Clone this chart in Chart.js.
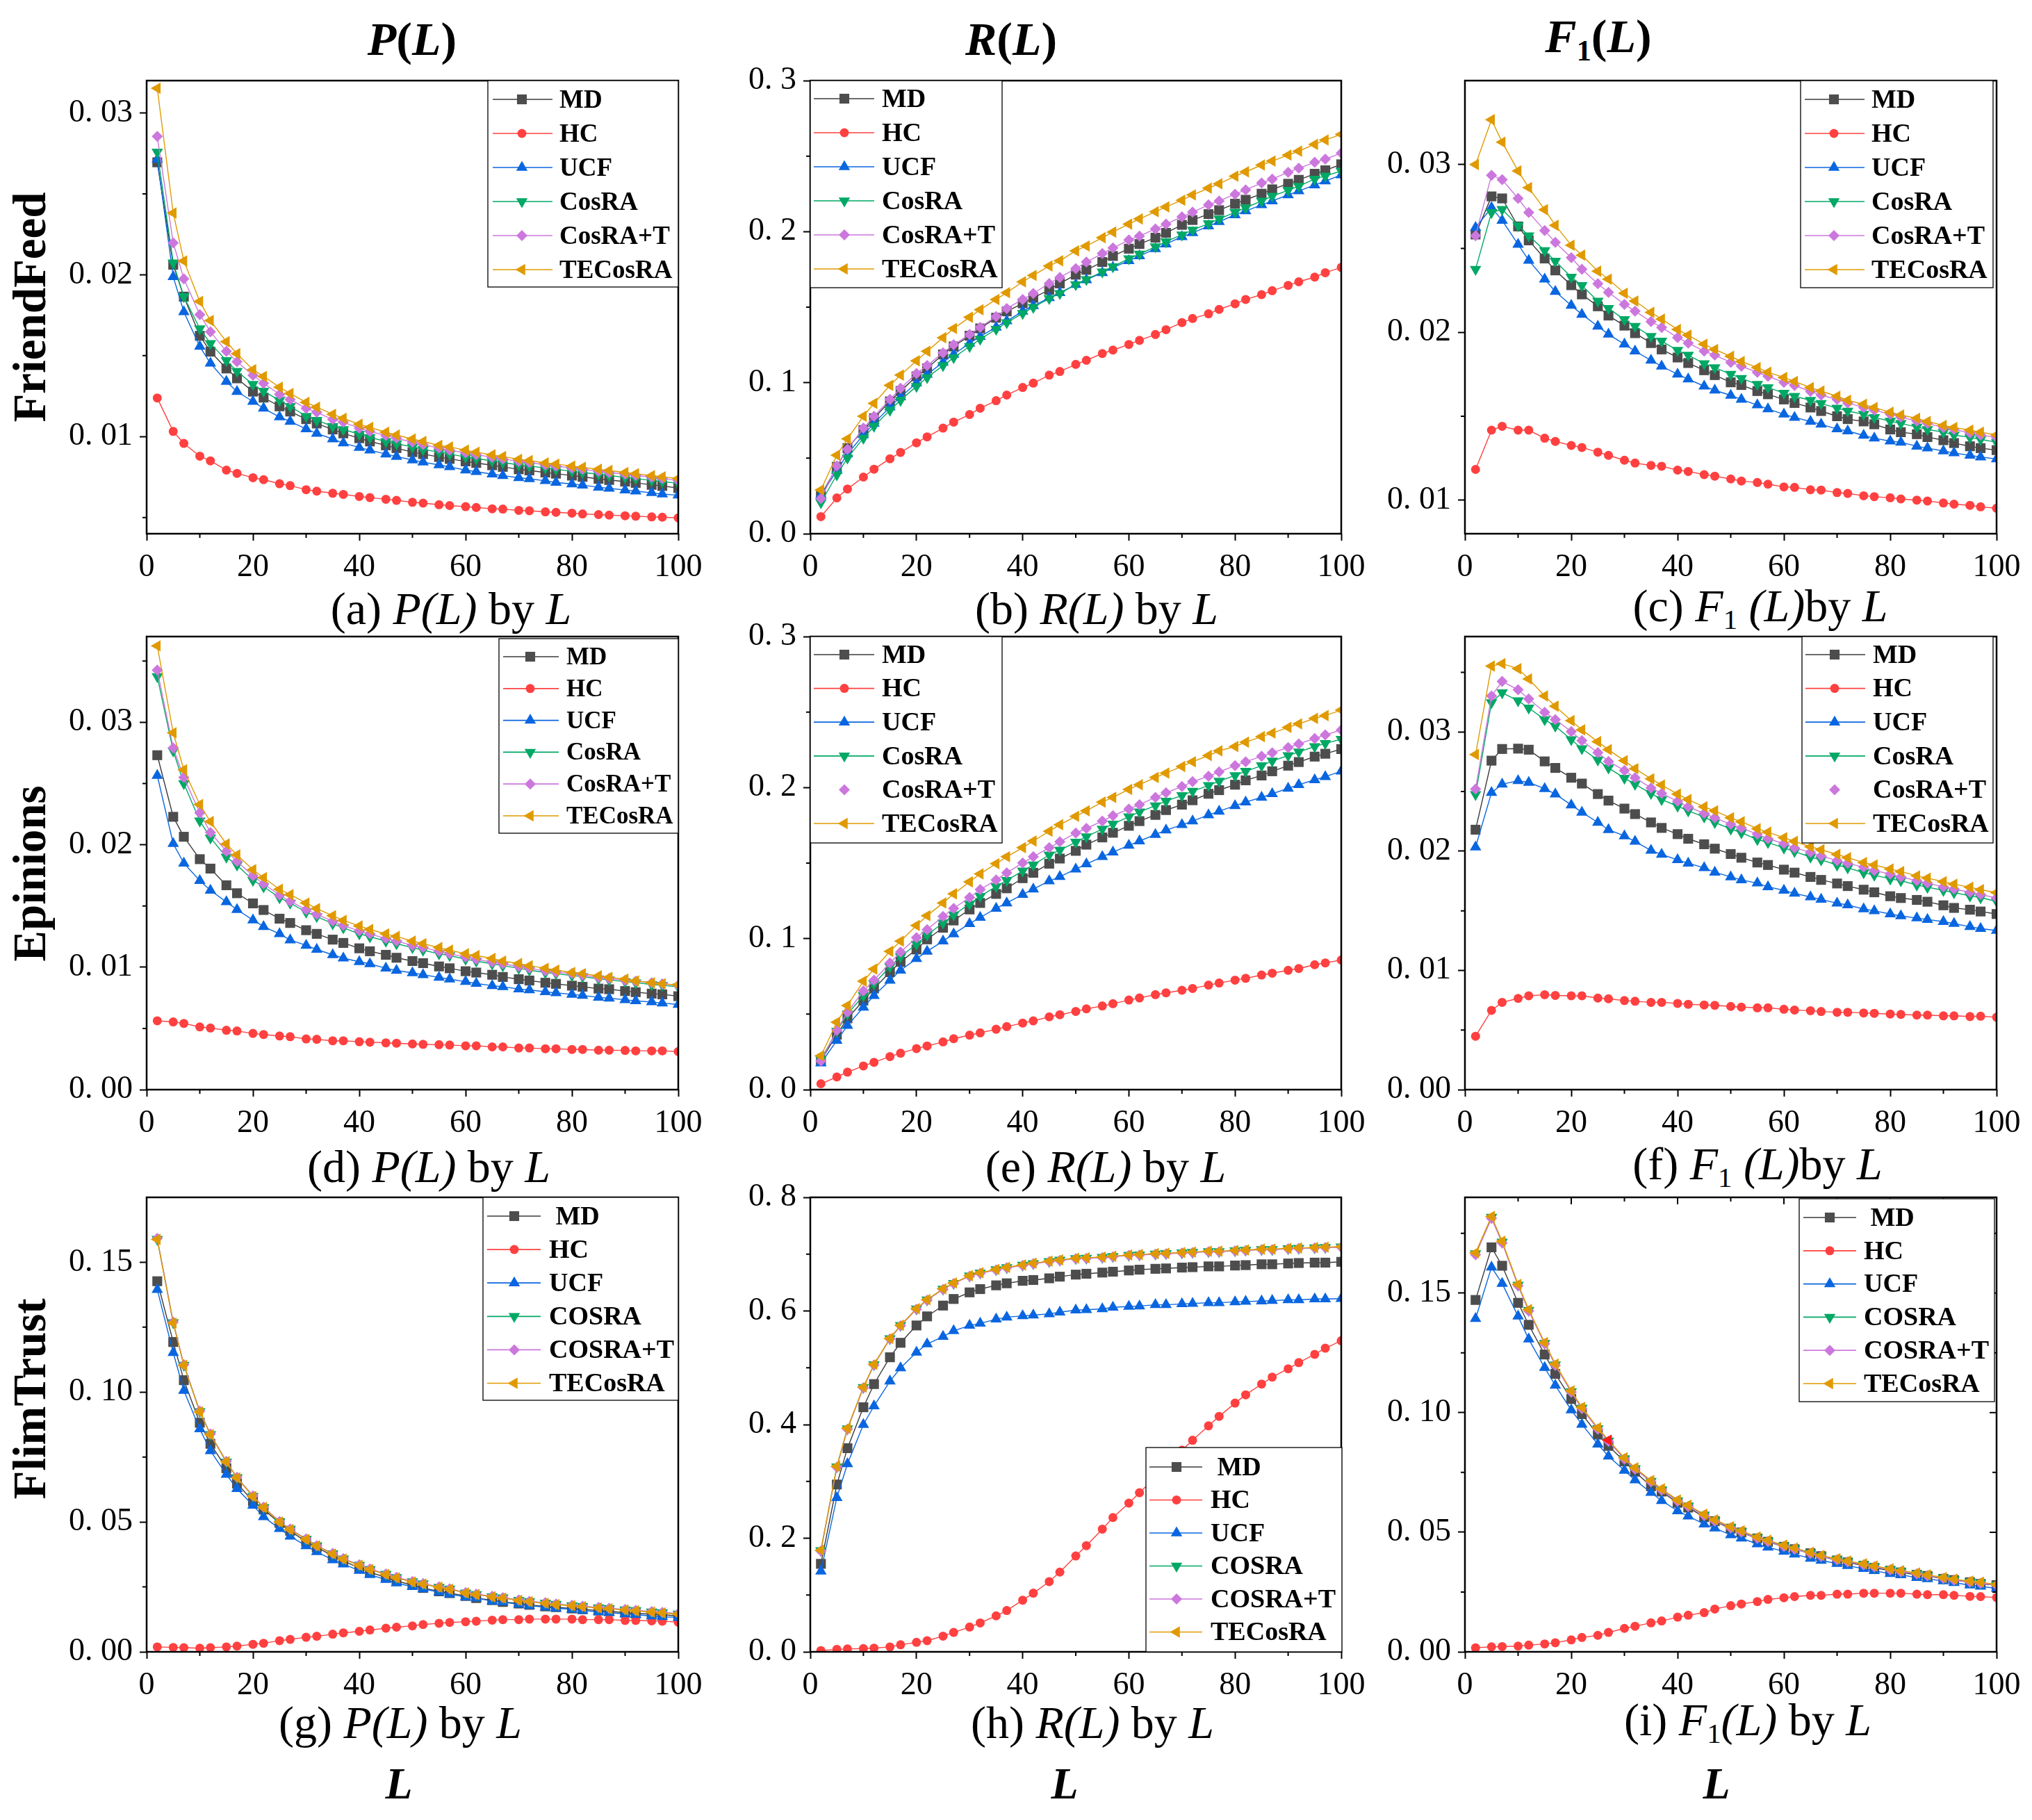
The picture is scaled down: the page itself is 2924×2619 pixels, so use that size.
<!DOCTYPE html>
<html>
<head>
<meta charset="utf-8">
<script src="https://cdn.jsdelivr.net/npm/chart.js@4.4.0/dist/chart.umd.min.js"></script>
<style>
  body { margin: 0; background: #fff; width: 2924px; height: 2619px; position: relative; overflow: hidden;
         font-family: "Liberation Serif", "Times New Roman", serif; color: #000; }
  canvas { position: absolute; }
  .t { position: absolute; transform: translate(-50%, -50%); white-space: nowrap; line-height: 1; }
  .col { font-size: 68px; font-weight: bold; }
  .row { font-size: 67px; font-weight: bold; transform: translate(-50%, -50%) rotate(-90deg); }
  .cap { font-size: 66px; }
  .lx { font-size: 64px; font-weight: bold; font-style: italic; }
  sub { font-size: 0.62em; vertical-align: -0.28em; font-style: normal; }
</style>
</head>
<body>

<div class="t col" style="left:593px;top:56px"><i>P</i>(<i>L</i>)</div>
<div class="t col" style="left:1455px;top:56px"><i>R</i>(<i>L</i>)</div>
<div class="t col" style="left:2300px;top:56px"><i>F</i><sub>1</sub>(<i>L</i>)</div>

<div class="t row" style="left:42px;top:442px">FriendFeed</div>
<div class="t row" style="left:42px;top:1257px">Epinions</div>
<div class="t row" style="left:42px;top:2013px">FlimTrust</div>

<div class="t cap" style="left:649px;top:876px">(a) <i>P(L)</i> by <i>L</i></div>
<div class="t cap" style="left:1578px;top:876px">(b) <i>R(L)</i> by <i>L</i></div>
<div class="t cap" style="left:2533px;top:876px">(c) <i>F</i><sub>1</sub> <i>(L)</i>by <i>L</i></div>
<div class="t cap" style="left:617px;top:1679px">(d) <i>P(L)</i> by <i>L</i></div>
<div class="t cap" style="left:1591px;top:1679px">(e) <i>R(L)</i> by <i>L</i></div>
<div class="t cap" style="left:2529px;top:1679px">(f) <i>F</i><sub>1</sub> <i>(L)</i>by <i>L</i></div>
<div class="t cap" style="left:576px;top:2479px">(g) <i>P(L)</i> by <i>L</i></div>
<div class="t cap" style="left:1572px;top:2479px">(h) <i>R(L)</i> by <i>L</i></div>
<div class="t cap" style="left:2515px;top:2479px">(i) <i>F</i><sub>1</sub><i>(L)</i> by <i>L</i></div>

<div class="t lx" style="left:574px;top:2567px">L</div>
<div class="t lx" style="left:1532px;top:2567px">L</div>
<div class="t lx" style="left:2470px;top:2567px">L</div>

<script>
// recommendation list length
const L = [2,5,7,10,12,15,17,20,22,25,27,30,32,35,37,40,42,45,47,50,52,55,57,60,62,65,67,70,72,75,77,80,82,85,87,90,92,95,97,100];

const namesTop = ['MD','HC','UCF','CosRA','CosRA+T','TECosRA'];
const namesBottom = ['\u00a0MD','HC','UCF','COSRA','COSRA+T','TECosRA'];

const xTicks = [0,10,20,30,40,50,60,70,80,90,100];
const xTickLabels = ['0','','20','','40','','60','','80','','100'];

// FriendFeed - P(L)
const a_MD = [0.02695,0.02062,0.01865,0.01623,0.01525,0.01421,0.0136,0.01278,0.01241,0.01187,0.01155,0.01108,0.01081,0.01044,0.0102,0.0099,0.0097,0.00946,0.00929,0.00904,0.00892,0.00874,0.00862,0.00847,0.00837,0.00823,0.00813,0.00798,0.00791,0.00778,0.00771,0.00759,0.00751,0.00739,0.00732,0.00722,0.00714,0.00702,0.00695,0.00682];
const a_HC = [0.01239,0.01032,0.00958,0.00879,0.0085,0.00793,0.00773,0.00746,0.00734,0.00709,0.00697,0.00672,0.00663,0.0065,0.00643,0.0063,0.00623,0.00613,0.00606,0.00594,0.00589,0.00579,0.00574,0.00567,0.00562,0.00554,0.00552,0.00544,0.00542,0.00535,0.00532,0.00527,0.00522,0.00518,0.00515,0.00511,0.00508,0.00504,0.00502,0.00498];
const a_UCF = [0.02714,0.01988,0.01771,0.01557,0.01453,0.0134,0.01278,0.01217,0.01175,0.01121,0.01094,0.01047,0.0102,0.00985,0.0096,0.00933,0.00916,0.00892,0.00877,0.00855,0.00842,0.00825,0.00813,0.00793,0.00783,0.00768,0.00759,0.00746,0.00739,0.00727,0.00717,0.00707,0.007,0.00687,0.0068,0.0067,0.00663,0.00653,0.00645,0.00638];
const a_CosRA = [0.02759,0.02074,0.01865,0.01667,0.01576,0.0147,0.01404,0.01323,0.01281,0.01224,0.01187,0.01126,0.01101,0.01064,0.01044,0.01015,0.00995,0.0097,0.00956,0.00936,0.00921,0.00904,0.00892,0.00874,0.00865,0.0085,0.0084,0.00825,0.00818,0.00806,0.00798,0.00786,0.00778,0.00768,0.00759,0.00749,0.00741,0.00729,0.00722,0.00712];
const a_CosRAT = [0.02855,0.02197,0.01975,0.01754,0.01648,0.01527,0.01463,0.01379,0.0133,0.01261,0.01229,0.01175,0.0115,0.01106,0.01089,0.01052,0.01032,0.01007,0.0099,0.00966,0.00951,0.00929,0.00916,0.00899,0.00889,0.00872,0.00862,0.00847,0.0084,0.00825,0.00818,0.00806,0.00798,0.00786,0.00778,0.00768,0.00761,0.00749,0.00741,0.00729];
const a_TECosRA = [0.03153,0.02382,0.02086,0.01835,0.01717,0.01586,0.01512,0.01414,0.01372,0.01305,0.01266,0.01212,0.01182,0.01138,0.01113,0.01076,0.01057,0.01027,0.0101,0.00985,0.0097,0.00946,0.00936,0.00916,0.00904,0.00887,0.00877,0.0086,0.00852,0.00837,0.0083,0.00818,0.0081,0.00798,0.00791,0.00778,0.00771,0.00759,0.00751,0.00741];

// FriendFeed - R(L)
const b_MD = [0.0251,0.0443,0.0567,0.0686,0.0765,0.0876,0.0945,0.1042,0.1095,0.1187,0.124,0.1311,0.1359,0.143,0.1472,0.1525,0.1562,0.1615,0.1657,0.1715,0.1747,0.1799,0.1839,0.1887,0.1918,0.196,0.1992,0.2045,0.2077,0.2116,0.2142,0.2185,0.2211,0.2251,0.228,0.2317,0.2343,0.2383,0.2406,0.2446];
const b_HC = [0.0113,0.0237,0.0296,0.0375,0.0427,0.0496,0.0538,0.0602,0.0641,0.0699,0.0739,0.0789,0.0831,0.0881,0.0918,0.0968,0.0997,0.105,0.1074,0.1121,0.1148,0.1193,0.1216,0.1253,0.128,0.1319,0.1351,0.1398,0.1425,0.1456,0.1485,0.1522,0.1551,0.1583,0.1609,0.1644,0.1668,0.1699,0.1728,0.1763];
const b_UCF = [0.0256,0.0417,0.0528,0.0654,0.0731,0.0839,0.0905,0.0997,0.1055,0.1135,0.1187,0.1261,0.1306,0.1367,0.1409,0.1472,0.1509,0.1562,0.1596,0.1649,0.1681,0.1728,0.1763,0.1807,0.1839,0.1887,0.1918,0.1966,0.1992,0.2037,0.2066,0.2111,0.2137,0.2177,0.2203,0.2243,0.2269,0.2309,0.2335,0.2375];
const b_CosRA = [0.0206,0.039,0.0501,0.0633,0.0712,0.0818,0.0884,0.0976,0.1034,0.1113,0.1166,0.124,0.1288,0.1354,0.1398,0.1459,0.1499,0.1557,0.1591,0.1649,0.1683,0.1734,0.1768,0.1821,0.1852,0.19,0.1934,0.1979,0.2011,0.2053,0.2084,0.2129,0.2158,0.2203,0.2235,0.2274,0.2301,0.2348,0.2369,0.2401];
const b_CosRAT = [0.0232,0.0449,0.0559,0.0699,0.0778,0.0889,0.0963,0.1061,0.1113,0.1198,0.1251,0.1319,0.1367,0.1438,0.1491,0.1551,0.1591,0.1657,0.1697,0.1755,0.1799,0.1855,0.1892,0.1945,0.1971,0.2018,0.205,0.2098,0.2129,0.2177,0.2203,0.2248,0.2277,0.2322,0.2348,0.2393,0.242,0.2459,0.248,0.252];
const b_TECosRA = [0.029,0.052,0.0628,0.0778,0.0863,0.0982,0.105,0.1145,0.1208,0.1298,0.1359,0.1433,0.1483,0.1551,0.1596,0.1668,0.171,0.1773,0.1807,0.1873,0.1905,0.196,0.1997,0.205,0.2084,0.2132,0.2164,0.2208,0.2243,0.2288,0.2317,0.2367,0.2396,0.2441,0.2467,0.2507,0.2533,0.2578,0.2607,0.2644];

// FriendFeed - F1(L)
const c_MD = [0.02583,0.0281,0.02798,0.02631,0.02548,0.0244,0.02369,0.02281,0.02226,0.02155,0.021,0.0204,0.01995,0.01936,0.01898,0.0185,0.01817,0.01774,0.01745,0.01702,0.01686,0.0165,0.01631,0.016,0.01579,0.01552,0.01531,0.015,0.01483,0.01469,0.01452,0.01421,0.01405,0.01393,0.01376,0.01357,0.0134,0.01321,0.0131,0.01298];
const c_HC = [0.01183,0.01417,0.0144,0.01417,0.01417,0.01369,0.0135,0.01326,0.01314,0.01286,0.01267,0.01238,0.01221,0.01207,0.01202,0.01179,0.01171,0.01152,0.01143,0.01126,0.01114,0.01105,0.01095,0.01079,0.01076,0.01062,0.0106,0.01045,0.0104,0.01026,0.01021,0.01014,0.01007,0.01,0.00995,0.00983,0.00976,0.00969,0.0096,0.00952];
const c_UCF = [0.02624,0.02743,0.02667,0.02524,0.02429,0.02317,0.02243,0.0216,0.02107,0.02036,0.01988,0.01929,0.01888,0.01833,0.01798,0.0175,0.01721,0.01679,0.01655,0.01624,0.016,0.01567,0.01543,0.01512,0.01493,0.01469,0.01452,0.01424,0.01412,0.01386,0.01369,0.01352,0.01345,0.01321,0.0131,0.01293,0.01281,0.01267,0.01257,0.01245];
const c_CosRA = [0.02376,0.02714,0.02733,0.02636,0.02576,0.02488,0.02424,0.02329,0.02279,0.02186,0.02143,0.02076,0.02036,0.01976,0.01948,0.01893,0.01864,0.01814,0.0179,0.0175,0.01726,0.0169,0.01671,0.01638,0.01619,0.01595,0.01576,0.01548,0.01531,0.01512,0.01493,0.01471,0.01457,0.01436,0.01421,0.01405,0.01388,0.01374,0.01362,0.01345];
const c_CosRAT = [0.02576,0.02936,0.0291,0.02798,0.02714,0.02607,0.02536,0.02445,0.02376,0.0229,0.02238,0.02167,0.02126,0.02064,0.02029,0.01969,0.01936,0.01888,0.01864,0.01821,0.01798,0.01762,0.01738,0.01702,0.01683,0.01648,0.01626,0.016,0.01579,0.01552,0.01536,0.01512,0.01495,0.01471,0.01457,0.01433,0.01421,0.014,0.01388,0.01374];
const c_TECosRA = [0.03,0.03267,0.03133,0.02962,0.02862,0.02731,0.02638,0.02519,0.0246,0.02364,0.02317,0.02233,0.02186,0.02119,0.02079,0.02017,0.01983,0.01929,0.01898,0.01857,0.01826,0.0179,0.01762,0.01731,0.01707,0.01671,0.0165,0.01619,0.01595,0.01571,0.01552,0.01524,0.01507,0.01488,0.01469,0.01445,0.01433,0.01417,0.01405,0.01388];

// Epinions - P(L)
const d_MD = [0.02731,0.02228,0.02065,0.01882,0.01805,0.01669,0.01604,0.01521,0.01467,0.01396,0.01361,0.01302,0.01272,0.01225,0.01198,0.01154,0.0113,0.01101,0.01077,0.0105,0.01033,0.01006,0.00991,0.00967,0.00956,0.00938,0.0092,0.00902,0.00891,0.00873,0.00864,0.00849,0.0084,0.00825,0.0082,0.00805,0.00796,0.00784,0.00778,0.00763];
const d_HC = [0.00562,0.00553,0.00541,0.00512,0.00503,0.00485,0.00479,0.00459,0.0045,0.00438,0.00432,0.00414,0.00411,0.00399,0.00399,0.00391,0.00388,0.00382,0.00379,0.00373,0.0037,0.00367,0.00364,0.00358,0.00358,0.00349,0.00349,0.0034,0.0034,0.00334,0.00334,0.00328,0.00328,0.00322,0.00322,0.0032,0.00317,0.00317,0.00317,0.00311];
const d_UCF = [0.02565,0.02009,0.01849,0.01707,0.01627,0.01533,0.0147,0.01385,0.01331,0.01272,0.01222,0.01178,0.01145,0.01101,0.01074,0.01044,0.01027,0.00991,0.00973,0.00953,0.00938,0.00917,0.00902,0.00882,0.00867,0.00849,0.0084,0.00822,0.00814,0.00799,0.0079,0.00778,0.00769,0.00754,0.00746,0.00734,0.00725,0.00716,0.00707,0.00695];
const d_CosRA = [0.03373,0.02766,0.025,0.02195,0.02056,0.01899,0.01834,0.0171,0.01657,0.01568,0.01524,0.0145,0.01414,0.01355,0.01322,0.01272,0.01249,0.01213,0.01192,0.0116,0.01139,0.01109,0.01095,0.01065,0.0105,0.01027,0.01012,0.00991,0.00976,0.00956,0.00947,0.00932,0.00923,0.00905,0.00896,0.00882,0.00873,0.00858,0.00852,0.0084];
const d_CosRAT = [0.03426,0.0279,0.0255,0.0226,0.021,0.01947,0.01864,0.01746,0.0168,0.01589,0.01538,0.0147,0.01432,0.01376,0.0134,0.01296,0.01272,0.01234,0.01213,0.01178,0.0116,0.0113,0.01109,0.01083,0.01065,0.01041,0.01027,0.01006,0.00991,0.0097,0.00959,0.00947,0.00935,0.00917,0.00908,0.00893,0.00885,0.00873,0.00864,0.00852];
const d_TECosRA = [0.03624,0.02914,0.02612,0.02328,0.02189,0.02006,0.01917,0.01796,0.01731,0.01636,0.01592,0.01524,0.01479,0.0142,0.01382,0.01337,0.01308,0.01272,0.01251,0.01213,0.01192,0.0116,0.01139,0.01109,0.01095,0.01071,0.0105,0.0103,0.01012,0.00991,0.00976,0.00956,0.00947,0.00929,0.00917,0.00902,0.00888,0.00873,0.00864,0.00855];

// Epinions - R(L)
const e_MD = [0.0193,0.0364,0.0472,0.059,0.067,0.0778,0.0846,0.0928,0.0995,0.1072,0.112,0.1193,0.1236,0.1296,0.1333,0.14,0.1436,0.1496,0.153,0.1581,0.1622,0.167,0.1701,0.1747,0.1778,0.1819,0.1851,0.1887,0.1916,0.1959,0.1983,0.2019,0.2048,0.208,0.2108,0.2145,0.2169,0.2205,0.2224,0.2255];
const e_HC = [0.0039,0.0084,0.0116,0.0157,0.0181,0.0219,0.0241,0.0272,0.0289,0.0316,0.0337,0.0361,0.0376,0.04,0.0417,0.0441,0.0455,0.0482,0.0496,0.0518,0.0535,0.0554,0.0569,0.0593,0.0607,0.0629,0.0641,0.0658,0.067,0.0692,0.0706,0.0725,0.0737,0.0759,0.0771,0.079,0.0802,0.0827,0.0839,0.0858];
const e_UCF = [0.0176,0.0325,0.0424,0.0545,0.0622,0.0723,0.079,0.0867,0.0916,0.0983,0.1031,0.1099,0.114,0.12,0.1236,0.1292,0.1328,0.1381,0.141,0.146,0.1494,0.1542,0.1573,0.1617,0.1646,0.1689,0.1718,0.1754,0.1778,0.1819,0.1843,0.188,0.1904,0.1935,0.1959,0.1995,0.2019,0.2051,0.2072,0.2108];
const e_CosRA = [0.02,0.0388,0.0501,0.0622,0.0701,0.0814,0.088,0.0964,0.1024,0.1104,0.1157,0.1229,0.128,0.1345,0.1386,0.1448,0.1489,0.1554,0.1586,0.1639,0.1675,0.1725,0.1759,0.1807,0.1839,0.188,0.1911,0.1947,0.1976,0.2014,0.2043,0.208,0.2108,0.2145,0.2176,0.2212,0.2236,0.2272,0.2292,0.232];
const e_CosRAT = [0.019,0.0393,0.0513,0.0653,0.0725,0.0839,0.0911,0.1007,0.106,0.1147,0.12,0.1272,0.1325,0.1388,0.1436,0.1501,0.1542,0.1602,0.1641,0.1699,0.173,0.1778,0.1814,0.1858,0.1887,0.1935,0.1966,0.2007,0.2039,0.2075,0.2104,0.2145,0.2171,0.2207,0.2231,0.2265,0.2289,0.2325,0.2349,0.2381];
const e_TECosRA = [0.0224,0.0446,0.0557,0.0718,0.0798,0.0916,0.0983,0.1087,0.1152,0.1236,0.1296,0.1376,0.1429,0.1496,0.1542,0.1602,0.1646,0.1711,0.1754,0.181,0.1846,0.1904,0.1935,0.1988,0.2019,0.2067,0.2096,0.214,0.2171,0.2212,0.2243,0.2272,0.2301,0.2337,0.2361,0.2398,0.2422,0.2458,0.2477,0.2513];

// Epinions - F1(L)
const f_MD = [0.0218,0.02759,0.02857,0.0286,0.02851,0.02753,0.02698,0.02616,0.02567,0.02479,0.02424,0.02357,0.02311,0.02241,0.02195,0.02143,0.02104,0.02058,0.02021,0.01976,0.01945,0.01905,0.01884,0.01845,0.0182,0.01784,0.01759,0.01729,0.01707,0.01677,0.01655,0.01622,0.01607,0.01591,0.01576,0.01546,0.01524,0.01509,0.01494,0.01473];
const f_HC = [0.00448,0.00665,0.00732,0.00765,0.00787,0.00796,0.0079,0.00787,0.00787,0.00768,0.00762,0.00747,0.00741,0.00732,0.00732,0.00723,0.00716,0.0071,0.00707,0.00698,0.00692,0.00686,0.00686,0.00674,0.00668,0.00662,0.00655,0.00649,0.00649,0.00643,0.0064,0.00634,0.00631,0.00625,0.00625,0.00619,0.00619,0.00613,0.00616,0.00607];
const f_UCF = [0.02034,0.02491,0.02561,0.02591,0.02576,0.02524,0.02479,0.02387,0.02326,0.02241,0.0218,0.02128,0.02082,0.02006,0.01973,0.01927,0.01899,0.0186,0.01823,0.01784,0.01759,0.01732,0.01701,0.01671,0.01646,0.01616,0.01595,0.01564,0.01549,0.01515,0.015,0.01473,0.01457,0.01439,0.01427,0.01409,0.01393,0.01366,0.01351,0.01335];
const f_CosRA = [0.02476,0.03247,0.03329,0.03262,0.03201,0.03104,0.03049,0.02936,0.0286,0.02765,0.02698,0.02613,0.02561,0.02485,0.02433,0.02378,0.02338,0.02287,0.02241,0.02186,0.02155,0.02098,0.02073,0.02027,0.01997,0.01951,0.01927,0.01884,0.0186,0.0182,0.01799,0.01768,0.01753,0.01716,0.01698,0.01671,0.01652,0.01625,0.0161,0.01579];
const f_CosRAT = [0.02521,0.03302,0.03424,0.03354,0.03277,0.03165,0.03104,0.03003,0.02927,0.02826,0.02753,0.02677,0.02616,0.0253,0.02485,0.02418,0.02372,0.02317,0.0228,0.02226,0.02195,0.02143,0.02104,0.02064,0.02027,0.01991,0.0196,0.01921,0.01899,0.01866,0.01838,0.01808,0.01784,0.01753,0.01732,0.01701,0.01683,0.01655,0.01637,0.01607];
const f_TECosRA = [0.02811,0.03552,0.03573,0.0353,0.03445,0.03302,0.03216,0.03095,0.03018,0.02918,0.02851,0.02759,0.02692,0.02607,0.02555,0.02479,0.02433,0.02372,0.02338,0.0228,0.02247,0.02189,0.02159,0.02113,0.02082,0.02037,0.02012,0.01973,0.01945,0.01905,0.01884,0.01851,0.01829,0.01793,0.01774,0.01744,0.01723,0.01698,0.01677,0.01652];

// FlimTrust - P(L)
const g_MD = [0.1427,0.1193,0.1046,0.0882,0.0801,0.0707,0.0648,0.058,0.0548,0.0496,0.0466,0.0424,0.0402,0.037,0.035,0.0323,0.0307,0.0286,0.0273,0.0257,0.0246,0.0233,0.0226,0.0215,0.0207,0.0199,0.0192,0.0186,0.0181,0.0175,0.0172,0.0167,0.0164,0.0159,0.0156,0.0151,0.0148,0.0145,0.0143,0.0138];
const g_HC = [0.0019,0.0017,0.0016,0.0014,0.0016,0.0019,0.0022,0.0029,0.0033,0.0043,0.0048,0.0056,0.006,0.0068,0.0073,0.0079,0.0084,0.0091,0.0095,0.01,0.0105,0.011,0.0113,0.0116,0.0118,0.0122,0.0124,0.0124,0.0126,0.0126,0.0126,0.0126,0.0124,0.0124,0.0124,0.0121,0.0121,0.0119,0.0118,0.0114];
const g_UCF = [0.1395,0.1152,0.1006,0.0858,0.0774,0.0683,0.0628,0.0564,0.052,0.0474,0.0445,0.0408,0.0385,0.0354,0.0338,0.0313,0.0297,0.0278,0.0265,0.0251,0.0242,0.023,0.0222,0.0211,0.0207,0.0195,0.0191,0.0183,0.0178,0.0172,0.0168,0.0164,0.0159,0.0154,0.0151,0.0146,0.0143,0.0138,0.0135,0.0132];
const g_CosRA = [0.1589,0.1268,0.1104,0.0925,0.0837,0.0731,0.0671,0.0599,0.0556,0.0501,0.0472,0.0434,0.0408,0.0378,0.0358,0.0334,0.0318,0.0299,0.0286,0.027,0.0262,0.0249,0.0242,0.0227,0.0221,0.0213,0.0208,0.0199,0.0194,0.0188,0.0183,0.0178,0.0175,0.017,0.0167,0.0162,0.0159,0.0154,0.0151,0.0146];
const g_CosRAT = [0.1592,0.127,0.1106,0.0927,0.0839,0.0733,0.0672,0.0601,0.0557,0.0502,0.0473,0.0435,0.0409,0.0379,0.0359,0.0335,0.0319,0.03,0.0287,0.0271,0.0263,0.025,0.0243,0.0228,0.0222,0.0214,0.0209,0.02,0.0195,0.0189,0.0184,0.0179,0.0176,0.0171,0.0168,0.0163,0.016,0.0155,0.0152,0.0147];
const g_TECosRA = [0.1588,0.1266,0.1103,0.0924,0.0836,0.0732,0.067,0.0598,0.0556,0.05,0.0471,0.0433,0.0408,0.0377,0.0357,0.0333,0.0317,0.0298,0.0285,0.0269,0.0261,0.0249,0.0241,0.0227,0.0221,0.0212,0.0207,0.0198,0.0193,0.0187,0.0182,0.0178,0.0174,0.0169,0.0166,0.0161,0.0158,0.0153,0.015,0.0145];

// FlimTrust - R(L)
const h_MD = [0.1549,0.2945,0.3585,0.4305,0.4713,0.5185,0.544,0.5745,0.5905,0.6095,0.6211,0.6327,0.6385,0.6451,0.6487,0.6531,0.6545,0.6575,0.6604,0.664,0.6655,0.6676,0.6691,0.6713,0.6727,0.6742,0.6749,0.6764,0.6771,0.6785,0.6785,0.68,0.6807,0.6822,0.6822,0.6836,0.6844,0.6851,0.6851,0.6865];
const h_HC = [0.0022,0.0044,0.0051,0.0058,0.0065,0.0087,0.0124,0.0167,0.0196,0.0276,0.0342,0.0436,0.0509,0.0633,0.0727,0.0909,0.1033,0.1236,0.1404,0.1687,0.1869,0.216,0.2364,0.2618,0.28,0.3069,0.3258,0.3549,0.3724,0.3978,0.4145,0.4378,0.4524,0.4713,0.4836,0.4982,0.5091,0.5236,0.5345,0.5476];
const h_UCF = [0.1418,0.2713,0.3309,0.4,0.4327,0.4764,0.4996,0.5273,0.5418,0.5549,0.5651,0.5745,0.5782,0.5855,0.5891,0.5913,0.5927,0.5949,0.5978,0.6015,0.6022,0.6036,0.6065,0.608,0.6087,0.6109,0.6109,0.6124,0.6131,0.6145,0.6145,0.616,0.6167,0.6175,0.6182,0.6196,0.6196,0.6211,0.6211,0.6218];
const h_CosRA = [0.1782,0.3258,0.3927,0.4655,0.5055,0.5513,0.5745,0.6036,0.6196,0.6385,0.6487,0.6618,0.6669,0.6727,0.6764,0.6807,0.6836,0.6873,0.6895,0.6924,0.6931,0.6945,0.696,0.6982,0.6989,0.7004,0.7011,0.7025,0.7033,0.7047,0.7047,0.7062,0.7069,0.7084,0.7084,0.7098,0.7105,0.7113,0.712,0.7127];
const h_CosRAT = [0.1775,0.325,0.392,0.4648,0.505,0.5508,0.574,0.603,0.619,0.638,0.6482,0.6612,0.6664,0.6722,0.676,0.6802,0.6831,0.6868,0.689,0.692,0.6927,0.694,0.6955,0.6978,0.6985,0.7,0.7007,0.7021,0.7029,0.7043,0.7043,0.7058,0.7065,0.708,0.708,0.7094,0.7101,0.7109,0.7116,0.7123];
const h_TECosRA = [0.179,0.3265,0.3935,0.466,0.506,0.5518,0.575,0.604,0.62,0.639,0.6492,0.6622,0.6673,0.6731,0.6768,0.6811,0.684,0.6877,0.6899,0.6928,0.6935,0.6949,0.6964,0.6986,0.6993,0.7008,0.7015,0.7029,0.7037,0.7051,0.7051,0.7066,0.7073,0.7088,0.7088,0.7102,0.7109,0.7117,0.7124,0.7131];

// FlimTrust - F1(L)
const i_MD = [0.1471,0.1691,0.1614,0.1459,0.1367,0.1243,0.1162,0.1057,0.0994,0.0908,0.0861,0.0796,0.0753,0.0692,0.067,0.0623,0.0603,0.0563,0.0546,0.0515,0.0499,0.0474,0.046,0.0439,0.0429,0.0412,0.04,0.0382,0.0374,0.036,0.0351,0.0339,0.0332,0.0322,0.0317,0.0305,0.03,0.0291,0.0284,0.0279];
const i_HC = [0.0017,0.0021,0.0022,0.0024,0.0028,0.0033,0.0038,0.005,0.006,0.0069,0.0081,0.0098,0.0107,0.0121,0.0129,0.0145,0.0153,0.0164,0.0179,0.0193,0.02,0.021,0.0219,0.0226,0.0231,0.0236,0.0236,0.0241,0.0241,0.0245,0.0245,0.0245,0.0245,0.0241,0.0239,0.0239,0.0236,0.0232,0.0231,0.0227];
const i_UCF = [0.1393,0.1608,0.154,0.1403,0.1307,0.1188,0.1114,0.1011,0.0951,0.0868,0.0818,0.0758,0.0718,0.0666,0.0632,0.0589,0.0567,0.0534,0.0517,0.0489,0.0475,0.0451,0.0437,0.042,0.0408,0.0391,0.0382,0.0369,0.036,0.0348,0.0339,0.0327,0.0322,0.031,0.0305,0.0296,0.0289,0.0279,0.0274,0.0265];
const i_CosRA = [0.1665,0.1817,0.1713,0.1533,0.1428,0.129,0.12,0.1088,0.1019,0.0933,0.0882,0.0808,0.0766,0.0713,0.0678,0.0632,0.061,0.0572,0.0549,0.052,0.0503,0.0477,0.0463,0.0443,0.0431,0.0413,0.04,0.0386,0.0377,0.0365,0.0356,0.0344,0.0336,0.0327,0.0319,0.0308,0.0301,0.0293,0.0288,0.0279];
const i_CosRAT = [0.166,0.1812,0.171,0.153,0.1425,0.1288,0.1198,0.1086,0.1017,0.0931,0.088,0.0806,0.0764,0.0711,0.0676,0.063,0.0608,0.057,0.0547,0.0518,0.0501,0.0475,0.0461,0.0441,0.0429,0.0411,0.0399,0.0385,0.0376,0.0364,0.0355,0.0343,0.0335,0.0326,0.0318,0.0307,0.03,0.0292,0.0287,0.0278];
const i_TECosRA = [0.1668,0.182,0.1716,0.1536,0.1431,0.1293,0.1203,0.1091,0.1022,0.0936,0.0885,0.0811,0.0769,0.0716,0.0681,0.0635,0.0613,0.0575,0.0552,0.0523,0.0506,0.048,0.0466,0.0446,0.0434,0.0416,0.0403,0.0389,0.038,0.0368,0.0359,0.0347,0.0339,0.033,0.0322,0.0311,0.0304,0.0296,0.0291,0.0282];

// y tick values and their labels ('' = minor tick)
const a_yTicks = [0.005,0.01,0.015,0.02,0.025,0.03];
const a_yLabels = ['','0. 01','','0. 02','','0. 03'];
const b_yTicks = [0,0.05,0.1,0.15,0.2,0.25,0.3];
const b_yLabels = ['0. 0','','0. 1','','0. 2','','0. 3'];
const c_yTicks = [0.01,0.015,0.02,0.025,0.03];
const c_yLabels = ['0. 01','','0. 02','','0. 03'];
const d_yTicks = [0,0.005,0.01,0.015,0.02,0.025,0.03,0.035];
const d_yLabels = ['0. 00','','0. 01','','0. 02','','0. 03',''];
const g_yTicks = [0,0.025,0.05,0.075,0.1,0.125,0.15];
const g_yLabels = ['0. 00','','0. 05','','0. 10','','0. 15'];
const h_yTicks = [0,0.1,0.2,0.3,0.4,0.5,0.6,0.7,0.8];
const h_yLabels = ['0. 0','','0. 2','','0. 4','','0. 6','','0. 8'];
const i_yTicks = [0,0.025,0.05,0.075,0.1,0.125,0.15,0.175];
const i_yLabels = ['0. 00','','0. 05','','0. 10','','0. 15',''];

const seriesStyle = [
  { color: '#4d4d4d', line: '#3a3a3a', shape: 'rect',     rot: 0,   r: 10 },
  { color: '#ff4040', line: '#ff4040', shape: 'circle',   rot: 0,   r: 6.5 },
  { color: '#0a66e0', line: '#0a66e0', shape: 'triangle', rot: 0,   r: 9.5 },
  { color: '#00a865', line: '#00a865', shape: 'triangle', rot: 180, r: 9.5 },
  { color: '#cc77dd', line: '#cc77dd', shape: 'rectRot',  rot: 0,   r: 8 },
  { color: '#e09a00', line: '#e09a00', shape: 'triangle', rot: 270, r: 9.5 }
];

const FONT = '"Liberation Serif", "Times New Roman", serif';

// plot area geometry (page px) and legend box (relative to plot area)
const panels = [
  { left: 211,  top: 116,  w: 765, h: 652, min: 0.004, max: 0.032, yt: a_yTicks, yl: a_yLabels, names: namesTop,
    series: [a_MD, a_HC, a_UCF, a_CosRA, a_CosRAT, a_TECosRA],
    lg: { x: 491, y: 0, w: 274, h: 297, first: 27, step: 49, l0: 7, l1: 93, mx: 49, tx: 103, font: 37 } },
  { left: 1166, top: 116,  w: 764, h: 652, min: 0, max: 0.3, yt: b_yTicks, yl: b_yLabels, names: namesTop,
    series: [b_MD, b_HC, b_UCF, b_CosRA, b_CosRAT, b_TECosRA],
    lg: { x: 0, y: 0, w: 276, h: 298, first: 26, step: 49, l0: 5, l1: 92, mx: 49, tx: 103, font: 38 } },
  { left: 2108, top: 116,  w: 765, h: 652, min: 0.008, max: 0.035, yt: c_yTicks, yl: c_yLabels, names: namesTop,
    series: [c_MD, c_HC, c_UCF, c_CosRA, c_CosRAT, c_TECosRA],
    lg: { x: 483, y: 0, w: 277, h: 298, first: 27, step: 49, l0: 6, l1: 92, mx: 48, tx: 102, font: 38 } },
  { left: 211,  top: 916,  w: 765, h: 652, min: 0, max: 0.037, yt: d_yTicks, yl: d_yLabels, names: namesTop,
    series: [d_MD, d_HC, d_UCF, d_CosRA, d_CosRAT, d_TECosRA],
    lg: { x: 507, y: 3, w: 258, h: 280, first: 26, step: 45.8, l0: 6, l1: 86, mx: 45, tx: 97, font: 35 } },
  { left: 1166, top: 916,  w: 764, h: 652, min: 0, max: 0.3, yt: b_yTicks, yl: b_yLabels, names: namesTop,
    series: [e_MD, e_HC, e_UCF, e_CosRA, e_CosRAT, e_TECosRA],
    lg: { x: 0, y: 0, w: 276, h: 297, first: 26, step: 48.6, l0: 5, l1: 92, mx: 49, tx: 103, font: 38, noLine: 4 } },
  { left: 2108, top: 916,  w: 765, h: 652, min: 0, max: 0.038, yt: d_yTicks, yl: d_yLabels, names: namesTop,
    series: [f_MD, f_HC, f_UCF, f_CosRA, f_CosRAT, f_TECosRA],
    lg: { x: 485, y: 0, w: 275, h: 297, first: 26, step: 48.6, l0: 5, l1: 91, mx: 47, tx: 102, font: 38, noLine: 4 } },
  { left: 211,  top: 1723, w: 765, h: 654, min: 0, max: 0.175, yt: g_yTicks, yl: g_yLabels, names: namesBottom,
    series: [g_MD, g_HC, g_UCF, g_CosRA, g_CosRAT, g_TECosRA],
    lg: { x: 484, y: 0, w: 281, h: 292, first: 27, step: 48.1, l0: 6, l1: 83, mx: 45, tx: 95, font: 38 } },
  { left: 1166, top: 1723, w: 764, h: 654, min: 0, max: 0.8, yt: h_yTicks, yl: h_yLabels, names: namesBottom,
    series: [h_MD, h_HC, h_UCF, h_CosRA, h_CosRAT, h_TECosRA],
    lg: { x: 483, y: 360, w: 282, h: 294, first: 28, step: 47.5, l0: 5, l1: 81, mx: 44, tx: 93, font: 38 } },
  { left: 2108, top: 1723, w: 765, h: 654, min: 0, max: 0.19, yt: i_yTicks, yl: i_yLabels, names: namesBottom,
    series: [i_MD, i_HC, i_UCF, i_CosRA, i_CosRAT, i_TECosRA], odd: { k: 5, idx: 10, color: '#ff1a1a' }, mirror: true,
    lg: { x: 481, y: 2, w: 281, h: 292, first: 27, step: 47.8, l0: 6, l1: 82, mx: 44, tx: 93, font: 38 } }
];

const PAD_L = 200, PAD_T = 40, PAD_R = 60, PAD_B = 90;
const MAJOR = 10, MINOR = 6;

function marker(ctx, s, x, y) {
  ctx.fillStyle = s.color;
  if (Chart.helpers && Chart.helpers.drawPoint) {
    Chart.helpers.drawPoint(ctx, { pointStyle: s.shape, rotation: s.rot, radius: s.r, borderWidth: 0 }, x, y);
  } else {
    ctx.beginPath(); ctx.arc(x, y, s.r, 0, Math.PI * 2); ctx.fill();
  }
}

// frame, minor ticks, mirrored ticks and the boxed legend
const frameLegend = {
  id: 'frameLegend',
  afterDraw(chart, args, o) {
    const ctx = chart.ctx, a = chart.chartArea, lg = o.lg;
    const xs = chart.scales.x, ys = chart.scales.y;
    ctx.save();
    ctx.strokeStyle = '#000';

    // short minor ticks (outside)
    ctx.lineWidth = 2;
    ctx.beginPath();
    xTicks.forEach((v, i) => {
      if (xTickLabels[i] !== '') return;
      const px = xs.getPixelForValue(v);
      ctx.moveTo(px, a.bottom); ctx.lineTo(px, a.bottom + MINOR);
    });
    o.yt.forEach((v, i) => {
      if (o.yl[i] !== '') return;
      const py = ys.getPixelForValue(v);
      ctx.moveTo(a.left, py); ctx.lineTo(a.left - MINOR, py);
    });
    // inward ticks on the top and right edges
    if (o.mirror) {
      xTicks.forEach((v, i) => {
        const px = xs.getPixelForValue(v);
        const len = xTickLabels[i] !== '' ? MAJOR : MINOR;
        ctx.moveTo(px, a.top); ctx.lineTo(px, a.top + len);
      });
      o.yt.forEach((v, i) => {
        const py = ys.getPixelForValue(v);
        const len = o.yl[i] !== '' ? MAJOR : MINOR;
        ctx.moveTo(a.right, py); ctx.lineTo(a.right - len, py);
      });
    }
    ctx.stroke();

    ctx.lineWidth = 2.5;
    ctx.strokeRect(a.left, a.top, a.right - a.left, a.bottom - a.top);

    const bx = a.left + lg.x, by = a.top + lg.y;
    ctx.fillStyle = '#fff';
    ctx.fillRect(bx, by, lg.w, lg.h);
    ctx.lineWidth = 1.3;
    ctx.strokeRect(bx, by, lg.w, lg.h);

    ctx.font = 'bold ' + lg.font + 'px ' + FONT;
    ctx.textBaseline = 'middle';
    o.names.forEach((name, k) => {
      const s = seriesStyle[k];
      const y = by + lg.first + k * lg.step;
      if (lg.noLine !== k) {
        ctx.strokeStyle = s.line;
        ctx.lineWidth = 1.7;
        ctx.beginPath();
        ctx.moveTo(bx + lg.l0, y);
        ctx.lineTo(bx + lg.l1, y);
        ctx.stroke();
      }
      marker(ctx, s, bx + lg.mx, y);
      ctx.fillStyle = '#000';
      ctx.fillText(name, bx + lg.tx, y + 2);
    });
    ctx.restore();
  }
};

panels.forEach(p => {
  const cv = document.createElement('canvas');
  const W = p.w + PAD_L + PAD_R, H = p.h + PAD_T + PAD_B;
  cv.width = W; cv.height = H;
  cv.style.left = (p.left - PAD_L) + 'px';
  cv.style.top = (p.top - PAD_T) + 'px';
  cv.style.width = W + 'px';
  cv.style.height = H + 'px';
  document.body.appendChild(cv);

  const datasets = p.series.map((vals, k) => {
    const s = seriesStyle[k];
    let fill = s.color;
    if (p.odd && p.odd.k === k) {
      fill = c => (c.dataIndex === p.odd.idx ? p.odd.color : s.color);
    }
    return {
      label: p.names[k],
      data: L.map((x, j) => ({ x: x, y: vals[j] })),
      borderColor: s.line,
      backgroundColor: s.color,
      pointBackgroundColor: fill,
      pointBorderColor: fill,
      pointBorderWidth: 0,
      pointStyle: s.shape,
      pointRotation: s.rot,
      pointRadius: s.r,
      borderWidth: 1.4,
      tension: 0,
      order: 5 - k
    };
  });

  const tickFont = { family: FONT, size: 46 };
  // chart.js draws only the major tick marks; minor ones are drawn shorter by the plugin
  const gridFor = labels => ({
    display: true, drawOnChartArea: false, drawTicks: true, tickLength: MAJOR, tickWidth: 2,
    tickColor: c => (labels[c.index] ? '#000' : 'rgba(0,0,0,0)')
  });

  new Chart(cv, {
    type: 'line',
    data: { datasets: datasets },
    options: {
      responsive: false,
      devicePixelRatio: 1,
      animation: false,
      events: [],
      layout: { padding: { left: 0, top: PAD_T, right: PAD_R, bottom: 0 } },
      plugins: {
        legend: { display: false },
        tooltip: { enabled: false },
        frameLegend: { lg: p.lg, names: p.names, yt: p.yt, yl: p.yl, mirror: !!p.mirror }
      },
      scales: {
        x: {
          type: 'linear', min: 0, max: 100,
          afterBuildTicks: s => { s.ticks = xTicks.map(v => ({ value: v })); },
          afterFit: s => { s.height = PAD_B; },
          ticks: { autoSkip: false, maxRotation: 0, padding: 11, color: '#000', font: tickFont,
                   callback: (v, i) => xTickLabels[i] },
          grid: gridFor(xTickLabels),
          border: { display: false }
        },
        y: {
          type: 'linear', position: 'left', min: p.min, max: p.max,
          afterBuildTicks: s => { s.ticks = p.yt.map(v => ({ value: v })); },
          afterFit: s => { s.width = PAD_L; },
          ticks: { autoSkip: false, padding: 10, color: '#000', font: tickFont,
                   callback: (v, i) => p.yl[i] },
          grid: gridFor(p.yl),
          border: { display: false }
        }
      }
    },
    plugins: [frameLegend]
  });
});
</script>
</body>
</html>
